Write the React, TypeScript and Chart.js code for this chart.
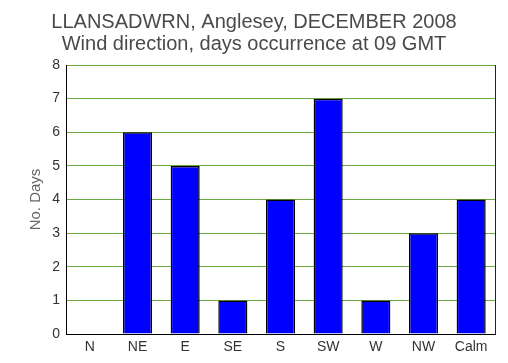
import React, { useEffect, useRef } from "react";
import { Chart, registerables } from "chart.js";

Chart.register(...registerables);

const titleLines = ["LLANSADWRN, Anglesey, DECEMBER 2008", "Wind direction, days occurrence at 09 GMT"];
const categories = ["N", "NE", "E", "SE", "S", "SW", "W", "NW", "Calm"];
const days = [0, 6, 5, 1, 4, 7, 1, 3, 4];
const yTitle = "No. Days";
const yMin = 0;
const yMax = 8;

const FONT = 'Arial, "Liberation Sans", sans-serif';

const frame = {
  id: "frame",
  afterDraw(chart: any) {
    const { ctx, chartArea } = chart;
    ctx.save();
    ctx.strokeStyle = "#222";
    ctx.lineWidth = 1;
    ctx.beginPath();
    ctx.moveTo(Math.round(chartArea.right) + 0.5, chartArea.top);
    ctx.lineTo(Math.round(chartArea.right) + 0.5, chartArea.bottom);
    ctx.stroke();
    ctx.restore();
  },
};

export default function App() {
  const ref = useRef<HTMLCanvasElement>(null);
  useEffect(() => {
    document.body.style.margin = "0";
    const chart = new Chart(ref.current!, {
      type: "bar",
      data: {
        labels: categories,
        datasets: [
          {
            data: days,
            backgroundColor: "#0000ff",
            borderColor: "#000000",
            borderWidth: 1.5,
            categoryPercentage: 1,
            barPercentage: 0.61,
          },
        ],
      },
      options: {
        animation: false,
        responsive: false,
        devicePixelRatio: 1,
        layout: { padding: { top: 0, right: 13, bottom: 0, left: 13 } },
        plugins: {
          legend: { display: false },
          tooltip: { enabled: false },
          title: {
            display: true,
            text: titleLines,
            color: "#4a4a4a",
            font: { family: FONT, size: 20, weight: "normal", lineHeight: 22 / 20 },
            padding: { top: 11, bottom: 10 },
          },
        },
        scales: {
          x: {
            grid: { display: false, drawTicks: false },
            border: { color: "#000", width: 1 },
            ticks: { color: "#333", font: { family: FONT, size: 14 }, padding: 5 },
            afterFit(scale: any) {
              scale.height = 29;
            },
          },
          y: {
            min: yMin,
            max: yMax,
            grid: { color: "#6aaa3f", drawTicks: false, lineWidth: 1 },
            border: { color: "#000", width: 1 },
            ticks: { stepSize: 1, color: "#333", font: { family: FONT, size: 14 }, padding: 6 },
            title: {
              display: true,
              text: yTitle,
              color: "#666",
              font: { family: FONT, size: 15 },
              padding: { top: 14, bottom: 0 },
            },
            afterFit(scale: any) {
              scale.width = 53;
            },
          },
        },
      },
      plugins: [frame],
    });
    return () => chart.destroy();
  }, []);
  return (
    <div style={{ width: 508, height: 363 }}>
      <canvas ref={ref} width={508} height={363} style={{ display: "block" }} />
    </div>
  );
}
